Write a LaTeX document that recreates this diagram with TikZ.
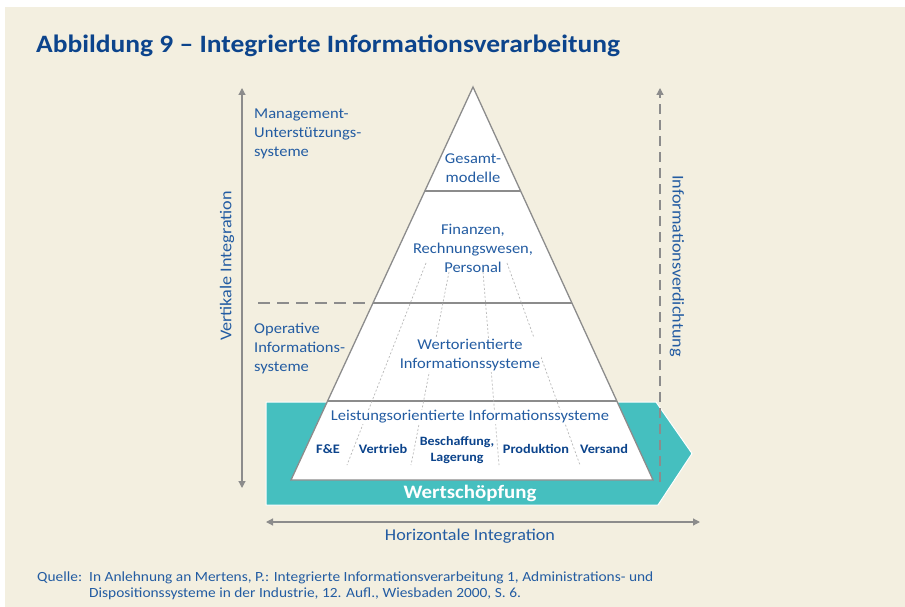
\documentclass[tikz,border=0pt]{standalone}
\usepackage{fontspec}
\setmainfont{Carlito}[FakeStretch=1.1]
\usetikzlibrary{arrows.meta,calc}
\definecolor{paper}{RGB}{243,239,224}
\definecolor{wsteal}{RGB}{69,191,191}
\definecolor{txtblue}{RGB}{35,92,162}
\definecolor{deepblue}{RGB}{12,68,140}
\definecolor{rulegray}{RGB}{140,140,140}
\definecolor{hairgray}{RGB}{185,185,185}
\tikzset{
  >={Triangle[length=7pt,width=7pt]},
  txt/.style={text=txtblue, font=\fontsize{15}{19}\selectfont, align=center, inner sep=1pt},
  sidetxt/.style={text=txtblue, font=\fontsize{15}{19}\selectfont, align=left, inner sep=0pt, anchor=north west},
  axistxt/.style={text=txtblue, font=\fontsize{16.5}{19}\selectfont, inner sep=0pt},
  dept/.style={text=deepblue, font=\bfseries\fontsize{13}{16}\selectfont, align=center, inner sep=1pt, fill=white},
  srctxt/.style={anchor=base west, inner sep=0pt, text=txtblue, font=\fontsize{14}{16}\selectfont},
  tier/.style={rulegray, line width=1.2pt},
  hair/.style={hairgray, line width=0.7pt, dash pattern=on 2pt off 2pt},
  axis/.style={rulegray, line width=1.2pt}
}
\begin{document}
\begin{tikzpicture}[x=1pt,y=-1pt]
\useasboundingbox (0,0) rectangle (905,607);
\fill[white] (0,0) rectangle (905,607);
\fill[paper] (5,7) rectangle (905,607);

% heading
\node[anchor=base west, inner sep=0pt, text=deepblue, font=\bfseries\fontsize{25}{30}\selectfont]
  (title) at (36,53) {Abbildung 9 – Integrierte Informationsverarbeitung};

% value chain arrow
\fill[wsteal, draw=white, line width=1pt]
  (266,402) -- (656,402) -- (692,453.5) -- (658,505) -- (266,505) -- cycle;

% pyramid
\coordinate (apex) at (473,87);
\coordinate (bl) at (291,480);
\coordinate (br) at (653,480);
\draw[rulegray, fill=white, line width=1.3pt] (apex) -- (br) -- (bl) -- cycle;
\draw[tier] ($(apex)!0.2646!(bl)$) -- ($(apex)!0.2646!(br)$);
\draw[tier] ($(apex)!0.5496!(bl)$) -- ($(apex)!0.5496!(br)$);
\draw[tier] ($(apex)!0.799!(bl)$) -- ($(apex)!0.799!(br)$);

% functional partitions
\draw[hair] (426,263) -- (347,465);
\draw[hair] (449,272) -- (411,465);
\draw[hair] (483,272) -- (499,465);
\draw[hair] (507,263) -- (580,465);

% tier labels
\node[txt] (gesamt) at (473,168) {Gesamt-\\modelle};
\node[txt] (fin) at (473,248) {Finanzen,\\Rechnungswesen,\\Personal};
\node[txt, fill=white] (wert) at (470,355) {Wertorientierte\\Informationssysteme};
\node[txt, fill=white] (leist) at (470,417) {Leistungsorientierte Informationssysteme};

% departments
\node[dept] (fe) at (328,449) {F\&E};
\node[dept] (vertrieb) at (383,449) {Vertrieb};
\node[dept, font=\bfseries\fontsize{12.7}{15.5}\selectfont] (besch) at (457,450) {Beschaffung,\\Lagerung};
\node[dept] (prod) at (536,449) {Produktion};
\node[dept] (versand) at (604,449) {Versand};

\node[text=white, font=\bfseries\fontsize{19}{22}\selectfont, inner sep=0pt] (ws) at (470,493) {Wertschöpfung};

% left side
\node[sidetxt] (mus) at (254,109) {Management-\\Unterstützungs-\\systeme};
\node[sidetxt] (ois) at (254,323) {Operative\\Informations-\\systeme};
\coordinate (sepL) at (258,303);
\coordinate (sepR) at (366,303);
\draw[rulegray, line width=1.3pt, dash pattern=on 12pt off 7pt] (sepL) -- (sepR);

\coordinate (vtop) at (242,88);
\coordinate (vbot) at (242,488);
\draw[axis, <->] (vtop) -- (vbot);
\node[axistxt, rotate=90] (vlab) at (227,266) {Vertikale Integration};

% right side
\coordinate (dtop) at (660,88);
\coordinate (dbot) at (660,482);
\draw[axis, dash pattern=on 10pt off 6pt, ->] (dbot) -- (dtop);
\node[axistxt, rotate=-90] (dlab) at (677,266) {Informationsverdichtung};

% bottom axis
\coordinate (hl) at (266,522);
\coordinate (hr) at (700,522);
\draw[axis, <->] (hl) -- (hr);
\node[axistxt] (hlab) at (470,536) {Horizontale Integration};

% source
\node[srctxt] (q) at (37,581) {Quelle:};
\node[srctxt] (q1) at (89,581) {In Anlehnung an Mertens, P.: Integrierte Informationsverarbeitung 1, Administrations- und};
\node[srctxt] (q2) at (89,597) {Dispositionssysteme in der Industrie, 12. Aufl., Wiesbaden 2000, S. 6.};
\end{tikzpicture}
\end{document}
